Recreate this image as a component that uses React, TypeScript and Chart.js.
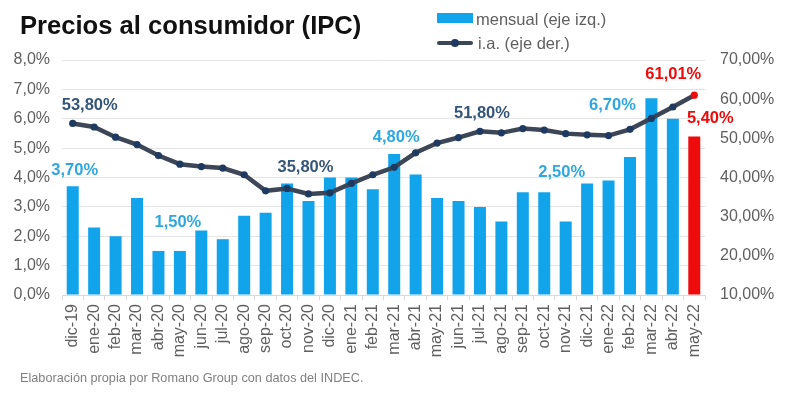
import React, { useEffect, useRef } from 'react';
import { Chart, registerables } from 'chart.js';

Chart.register(...registerables);

const categories = [
  'dic-19', 'ene-20', 'feb-20', 'mar-20', 'abr-20', 'may-20', 'jun-20', 'jul-20', 'ago-20', 'sep-20',
  'oct-20', 'nov-20', 'dic-20', 'ene-21', 'feb-21', 'mar-21', 'abr-21', 'may-21', 'jun-21', 'jul-21',
  'ago-21', 'sep-21', 'oct-21', 'nov-21', 'dic-21', 'ene-22', 'feb-22', 'mar-22', 'abr-22', 'may-22',
];

// monthly inflation (left axis, %)
const monthly = [
  3.7, 2.3, 2.0, 3.3, 1.5, 1.5, 2.2, 1.9, 2.7, 2.8,
  3.8, 3.2, 4.0, 4.0, 3.6, 4.8, 4.1, 3.3, 3.2, 3.0,
  2.5, 3.5, 3.5, 2.5, 3.8, 3.9, 4.7, 6.7, 6.0, 5.4,
];

// year-on-year inflation (right axis, %)
const yearly = [
  53.8, 52.9, 50.3, 48.4, 45.6, 43.4, 42.8, 42.4, 40.7, 36.6,
  37.2, 35.8, 36.1, 38.5, 40.7, 42.6, 46.3, 48.8, 50.2, 51.8,
  51.4, 52.5, 52.1, 51.2, 50.9, 50.7, 52.3, 55.1, 58.0, 61.01,
];

const leftTicks = [0, 1, 2, 3, 4, 5, 6, 7, 8];
const rightTicks = [10, 20, 30, 40, 50, 60, 70];

// which points get a value label
const barLabelIndex = [0, 5, 15, 23, 27, 29];
const lineLabelIndex = [0, 11, 19, 29];

const highlightIndex = 29;

const FONT = '"Liberation Sans", Arial, Helvetica, sans-serif';
const BAR_COLOR = '#12a4ea';
const RED = '#ee0b0b';
const LINE_COLOR = '#3c4656';
const MARKER_COLOR = '#1e3a60';
const BAR_LABEL_COLOR = '#2ea7e0';
const LINE_LABEL_COLOR = '#355679';
const TICK_COLOR = '#5f5f5f';

// label offsets (px) relative to mark
const barLabelOffsets: Record<number, [number, number]> = {
  0: [2, -16],
  5: [-2, -28],
  15: [2, -17],
  23: [-4, -49],
  27: [-39, 7],
  29: [16, -18],
};
const lineLabelOffsets: Record<number, [number, number]> = {
  0: [17, -18],
  11: [-3, -26],
  19: [2, -18],
  29: [-21, -21],
};

const fmt = (v: number) => v.toFixed(2).replace('.', ',') + '%';

const labelPlugin = {
  id: 'valueLabels',
  afterDatasetsDraw(chart: any) {
    const ctx = chart.ctx;
    const xs = chart.scales.x;
    const yl = chart.scales.y;
    const yr = chart.scales.y1;
    ctx.save();
    ctx.font = `bold 16.5px ${FONT}`;
    ctx.textAlign = 'center';
    ctx.textBaseline = 'middle';
    barLabelIndex.forEach((i) => {
      const [dx, dy] = barLabelOffsets[i] || [0, -16];
      const x = xs.getPixelForValue(i) + dx;
      const y = yl.getPixelForValue(monthly[i]) + dy;
      ctx.fillStyle = i === highlightIndex ? RED : BAR_LABEL_COLOR;
      ctx.fillText(fmt(monthly[i]), x, y);
    });
    lineLabelIndex.forEach((i) => {
      const [dx, dy] = lineLabelOffsets[i] || [0, -18];
      const x = xs.getPixelForValue(i) + dx;
      const y = yr.getPixelForValue(yearly[i]) + dy;
      ctx.fillStyle = i === highlightIndex ? RED : LINE_LABEL_COLOR;
      ctx.fillText(fmt(yearly[i]), x, y);
    });
    ctx.restore();
  },
};

export default function App() {
  const canvasRef = useRef<HTMLCanvasElement | null>(null);

  useEffect(() => {
    const canvas = canvasRef.current;
    if (!canvas) return;
    const chart = new Chart(canvas, {
      type: 'bar',
      data: {
        labels: categories,
        datasets: [
          {
            type: 'line',
            label: 'i.a. (eje der.)',
            data: yearly,
            yAxisID: 'y1',
            order: 0,
            borderColor: LINE_COLOR,
            borderWidth: 4.5,
            tension: 0,
            pointRadius: 3.6,
            pointBorderWidth: 0,
            pointBackgroundColor: yearly.map((_, i) => (i === highlightIndex ? RED : MARKER_COLOR)),
            pointBorderColor: yearly.map((_, i) => (i === highlightIndex ? RED : MARKER_COLOR)),
          } as any,
          {
            type: 'bar',
            label: 'mensual (eje izq.)',
            data: monthly,
            yAxisID: 'y',
            order: 1,
            backgroundColor: monthly.map((_, i) => (i === highlightIndex ? RED : BAR_COLOR)),
            barPercentage: 0.56,
            categoryPercentage: 1,
          } as any,
        ],
      },
      options: {
        responsive: false,
        animation: false,
        devicePixelRatio: 1,
        layout: { padding: { top: 60, left: 0, right: 0, bottom: 0 } },
        plugins: {
          legend: { display: false },
          tooltip: { enabled: false },
          title: { display: false },
        },
        scales: {
          x: {
            offset: true,
            grid: {
              display: true,
              drawOnChartArea: false,
              drawTicks: true,
              tickLength: 5,
              offset: true,
              color: '#d9d9d9',
            },
            border: { display: true, color: '#d9d9d9' },
            ticks: {
              autoSkip: false,
              maxRotation: 90,
              minRotation: 90,
              padding: 4,
              color: TICK_COLOR,
              font: { family: FONT, size: 16 },
            },
            afterFit: (scale: any) => {
              scale.height = 100;
            },
          },
          y: {
            position: 'left',
            min: 0,
            max: 8,
            afterBuildTicks: (scale: any) => {
              scale.ticks = leftTicks.map((v) => ({ value: v }));
            },
            grid: { color: '#e4e4e4', drawTicks: false, lineWidth: 1 },
            border: { display: false },
            ticks: {
              padding: 12,
              color: TICK_COLOR,
              font: { family: FONT, size: 16 },
              callback: (v: any) => Number(v).toFixed(1).replace('.', ',') + '%',
            },
            afterFit: (scale: any) => {
              scale.width = 62;
            },
          },
          y1: {
            position: 'right',
            min: 10,
            max: 70,
            afterBuildTicks: (scale: any) => {
              scale.ticks = rightTicks.map((v) => ({ value: v }));
            },
            grid: { display: false, drawTicks: false },
            border: { display: false },
            ticks: {
              padding: 15,
              color: TICK_COLOR,
              font: { family: FONT, size: 16 },
              callback: (v: any) => Number(v).toFixed(2).replace('.', ',') + '%',
            },
            afterFit: (scale: any) => {
              scale.width = 88;
            },
          },
        },
      } as any,
      plugins: [labelPlugin],
    });
    return () => chart.destroy();
  }, []);

  return (
    <div
      style={{
        position: 'absolute',
        left: 0,
        top: 0,
        width: 793,
        height: 395,
        background: '#ffffff',
        overflow: 'hidden',
        fontFamily: FONT,
      }}
    >
      <canvas
        ref={canvasRef}
        width={793}
        height={395}
        style={{ position: 'absolute', left: 0, top: 0, width: 793, height: 395 }}
      />
      <div
        style={{
          position: 'absolute',
          left: 20,
          top: 13,
          fontSize: 25.6,
          lineHeight: 1,
          fontWeight: 'bold',
          color: '#111111',
          whiteSpace: 'nowrap',
        }}
      >
        Precios al consumidor (IPC)
      </div>
      {/* legend */}
      <div
        style={{ position: 'absolute', left: 437, top: 13, width: 36, height: 10, background: BAR_COLOR }}
      />
      <div
        style={{
          position: 'absolute',
          left: 476,
          top: 11,
          fontSize: 16.5,
          lineHeight: '16.5px',
          color: TICK_COLOR,
          whiteSpace: 'nowrap',
        }}
      >
        mensual (eje izq.)
      </div>
      <div
        style={{ position: 'absolute', left: 437, top: 41, width: 36, height: 4, background: LINE_COLOR, borderRadius: 2 }}
      />
      <div
        style={{
          position: 'absolute',
          left: 451,
          top: 39,
          width: 8,
          height: 8,
          borderRadius: 4,
          background: MARKER_COLOR,
        }}
      />
      <div
        style={{
          position: 'absolute',
          left: 478,
          top: 35,
          fontSize: 16.5,
          lineHeight: '16.5px',
          color: TICK_COLOR,
          whiteSpace: 'nowrap',
        }}
      >
        i.a. (eje der.)
      </div>
      <div
        style={{
          position: 'absolute',
          left: 20,
          top: 372,
          fontSize: 12.7,
          lineHeight: '12.7px',
          color: '#808080',
          whiteSpace: 'nowrap',
        }}
      >
        Elaboración propia por Romano Group con datos del INDEC.
      </div>
    </div>
  );
}
